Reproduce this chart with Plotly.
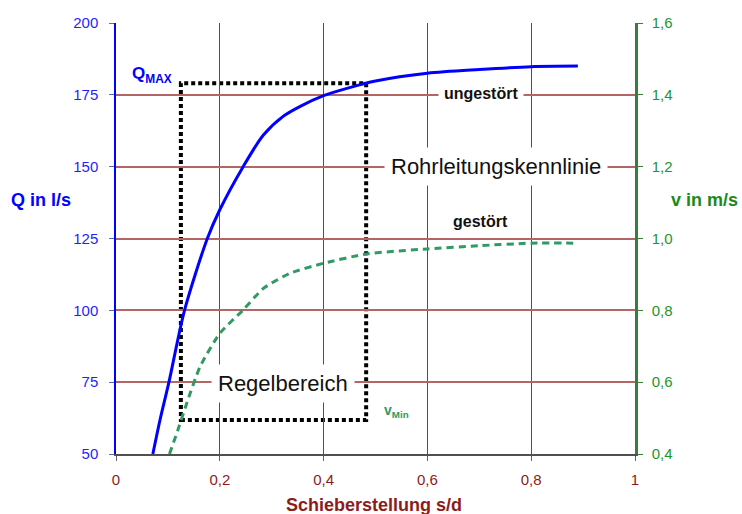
import plotly.graph_objects as go

# Blue curve: Q (l/s) vs Schieberstellung s/d
q_x = [0.071, 0.085, 0.102, 0.132, 0.176, 0.200, 0.245, 0.284, 0.322, 0.355, 0.400, 0.450, 0.500, 0.600, 0.700, 0.800, 0.890]
q_y = [50, 62, 75, 100, 125, 135, 150, 161, 167.5, 171, 174.7, 177.5, 179.8, 182.5, 183.8, 184.8, 185]

# Green curve: v (m/s) vs Schieberstellung s/d
v_x = [0.103, 0.120, 0.136, 0.162, 0.200, 0.245, 0.284, 0.335, 0.400, 0.483, 0.600, 0.700, 0.800, 0.890]
v_y = [0.40, 0.47, 0.54, 0.643, 0.736, 0.801, 0.861, 0.903, 0.931, 0.957, 0.971, 0.980, 0.987, 0.987]

# Control range box (Regelbereich): s/d from .. to, Q from .. to
box_x = [0.125, 0.482]
box_q = [61.8, 179.0]

x_ticks = [0, 0.2, 0.4, 0.6, 0.8, 1]
q_ticks = [50, 75, 100, 125, 150, 175, 200]
v_ticks = [0.4, 0.6, 0.8, 1.0, 1.2, 1.4, 1.6]

FONT = "Liberation Sans, Arial, sans-serif"
BLUE = "#0000ff"
GREEN = "#2f9a62"
AXGREEN = "#3a7d3a"
TXTGREEN = "#23962a"
DARKRED = "#8c1c1c"
GRIDRED = "#b36666"

fig = go.Figure()
fig.add_trace(go.Scatter(x=q_x, y=q_y, mode="lines", line=dict(color=BLUE, width=3, shape="spline", smoothing=0.8),
                         showlegend=False, yaxis="y"))
fig.add_trace(go.Scatter(x=v_x, y=v_y, mode="lines",
                         line=dict(color=GREEN, width=3, dash="7px,5px", shape="spline", smoothing=0.6),
                         showlegend=False, yaxis="y2"))

fig.add_shape(type="rect", xref="x", yref="y", x0=box_x[0], x1=box_x[1], y0=box_q[0], y1=box_q[1],
              line=dict(color="black", width=4, dash="4px,3px"), layer="below")

fig.update_layout(
    width=742, height=514,
    margin=dict(l=116, r=107, t=23, b=60),
    paper_bgcolor="white", plot_bgcolor="white",
    separators=", ",
    font=dict(family=FONT, size=15),
    xaxis=dict(range=[0, 1], tickvals=x_ticks, tickformat="~g", showgrid=True, gridcolor="#505050", gridwidth=1,
               showline=True, linecolor="#505050", linewidth=1.5, ticks="outside", ticklen=5, tickcolor="#606060",
               tickfont=dict(color=DARKRED, size=15), zeroline=False, ticklabelstandoff=6),
    yaxis=dict(range=[50, 200], tickvals=q_ticks, showgrid=True, gridcolor=GRIDRED, gridwidth=1.5,
               showline=True, linecolor=BLUE, linewidth=1.5, ticks="outside", ticklen=5, tickcolor="#5a6ab0",
               tickfont=dict(color="#1f1fff", size=15), zeroline=False, ticklabelstandoff=8),
    yaxis2=dict(range=[0.4, 1.6], tickvals=v_ticks, tickformat=".1f", overlaying="y", side="right",
                showgrid=False, showline=True, linecolor=AXGREEN, linewidth=2.5, ticks="outside", ticklen=5,
                tickcolor=AXGREEN, tickfont=dict(color=TXTGREEN, size=15), zeroline=False, ticklabelstandoff=6),
)

ann = [
    dict(text="<b>Q in l/s</b>", xref="paper", yref="paper", x=(41 - 116) / 519, y=(454 - 200) / 431,
         font=dict(color=BLUE, size=18)),
    dict(text="<b>v in m/s</b>", xref="paper", yref="paper", x=(704 - 116) / 519, y=(454 - 200) / 431,
         font=dict(color="#1a8a1a", size=18)),
    dict(text="<b>Schieberstellung s/d</b>", xref="paper", yref="paper", x=(374 - 116) / 519, y=(454 - 505) / 431,
         font=dict(color=DARKRED, size=18)),
    dict(text="<b>Q<sub>MAX</sub></b>", xref="x", yref="y", x=0.069, y=181.9, font=dict(color=BLUE, size=17)),
    dict(text="<b>v<sub>Min</sub></b>", xref="x", yref="y2", x=0.540, y=0.52, font=dict(color=GREEN, size=14)),
    dict(text="<b>ungestört</b>", xref="x", yref="y", x=0.704, y=175.6, font=dict(color="#111", size=16),
         bgcolor="white", borderpad=5),
    dict(text="<b>gestört</b>", xref="x", yref="y", x=0.703, y=130.8, font=dict(color="#111", size=16)),
    dict(text="Rohrleitungskennlinie", xref="x", yref="y", x=0.732, y=150.2, font=dict(color="#111", size=22),
         bgcolor="white", borderpad=6),
    dict(text="Regelbereich", xref="x", yref="y", x=0.3217, y=74.4, font=dict(color="#111", size=22),
         bgcolor="white", borderpad=6),
]
for a in ann:
    a.setdefault("showarrow", False)
    a.setdefault("xanchor", "center")
    a.setdefault("yanchor", "middle")
fig.update_layout(annotations=ann)

fig.write_html("out.html", config={"displayModeBar": False},
               post_script="document.body.style.margin='0';")
